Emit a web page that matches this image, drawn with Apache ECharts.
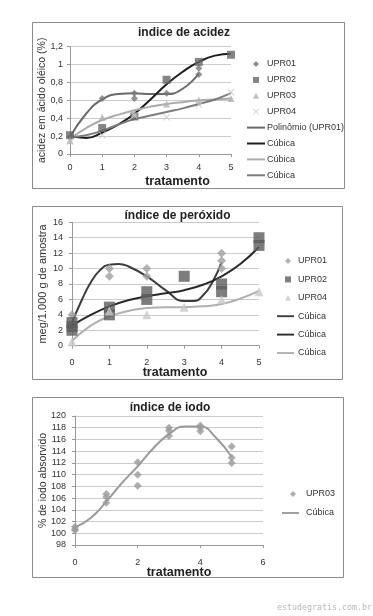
<!DOCTYPE html>
<html><head><meta charset="utf-8">
<script src="https://cdn.jsdelivr.net/npm/echarts@6/dist/echarts.min.js"></script>
<style>html,body{margin:0;padding:0;background:#fff}#c{width:373px;height:616px}</style>
</head><body><div id="c"></div>
<script>
// ---- Panel 1: índice de acidez ----
const acTicksX = [0,1,2,3,4,5];
const acUPR01 = [[0,0.19],[1,0.62],[2,0.68],[2,0.62],[3,0.68],[4,0.96],[4,0.89]];
const acUPR02 = [[0,0.21],[1,0.29],[2,0.42],[3,0.83],[4,1.03],[5,1.11]];
const acUPR03 = [[0,0.15],[1,0.41],[2,0.45],[3,0.56],[4,0.60],[5,0.62]];
const acUPR04 = [[0,0.14],[1,0.21],[2,0.43],[3,0.41],[4,0.55],[5,0.69]];
const acPoly01 = [[0,0.19],[0.5,0.45],[1,0.61],[1.5,0.67],[2,0.68],[2.5,0.67],[3,0.67],[3.5,0.73],[4,0.90]];
const acCub02 = [[0,0.20],[0.5,0.18],[1,0.24],[1.5,0.33],[2,0.45],[2.5,0.61],[3,0.78],[3.5,0.92],[4,1.03],[4.5,1.10],[5,1.12]];
const acCub03 = [[0,0.17],[0.5,0.29],[1,0.38],[1.5,0.44],[2,0.49],[2.5,0.53],[3,0.56],[3.5,0.58],[4,0.60],[4.5,0.61],[5,0.62]];
const acCub04 = [[0,0.19],[0.5,0.21],[1,0.26],[1.5,0.33],[2,0.39],[2.5,0.43],[3,0.47],[3.5,0.51],[4,0.56],[4.5,0.61],[5,0.68]];
// ---- Panel 2: índice de peróxido ----
const peUPR01 = [[0,4],[1,10],[1,9],[2,10],[2,9],[4,12],[4,11],[4,10]];
const peUPR02 = [[0,3],[0,2.5],[0,2],[1,5],[1,4],[2,7],[2,6],[3,9],[4,8],[4,7],[5,14],[5,13]];
const peUPR04 = [[0,0.5],[1,4.5],[2,4],[3,5],[4,6],[5,7]];
const peCub01 = [[0,3.0],[0.25,5.8],[0.5,8.2],[0.75,9.8],[1,10.5],[1.25,10.6],[1.5,10.3],[2,9.0],[2.5,7.2],[3,5.8],[3.25,5.8],[3.5,6.5],[3.75,8.2],[4,10.8]];
const peCub02 = [[0,2.6],[0.5,4.0],[1,5.1],[1.5,5.9],[2,6.4],[2.5,6.8],[3,7.2],[3.5,7.9],[4,9.0],[4.5,10.6],[5,12.8]];
const peCub04 = [[0,0.6],[0.5,2.6],[1,3.8],[1.5,4.5],[2,4.9],[2.5,5.0],[3,5.0],[3.5,5.1],[4,5.4],[4.5,6.1],[5,7.1]];
// ---- Panel 3: índice de iodo ----
const ioUPR03 = [[0,101.1],[0,100.7],[0,100.5],[1,106.7],[1,106.2],[1,105.2],[2,112.1],[2,110.0],[2,108.1],[3,118.0],[3,117.5],[3,116.6],[4,118.4],[4,118.0],[4,117.4],[5,114.8],[5,112.9],[5,112.0]];
const ioCub03 = [[0,101.0],[0.5,102.6],[1,105.4],[1.5,108.6],[2,111.4],[2.5,114.5],[3,116.9],[3.5,118.2],[4,118.2],[4.5,116.3],[5,113.0]];

const FONT = 'Liberation Sans, Arial, sans-serif';
const xSym = 'path://M1,0L5,4L9,0L10,1L6,5L10,9L9,10L5,6L1,10L0,9L4,5L0,1Z';
const lineIcon = 'path://M0,0L18,0L18,2L0,2Z';
const comma = v => String(v).replace('.', ',');

function sc(name, data, sym, size, color, g) {
  return {type:'scatter', name, data, symbol:sym, symbolSize:size, xAxisIndex:g, yAxisIndex:g,
    itemStyle:{color}, z:3};
}
function ln(name, data, color, g) {
  return {type:'line', name, data, smooth:0.5, symbol:'none', showSymbol:false, xAxisIndex:g, yAxisIndex:g,
    lineStyle:{color, width:2}, itemStyle:{color}, z:2};
}
function xa(g, max, interval, margin) {
  return {type:'value', gridIndex:g, min:0, max, interval,
    axisLine:{show:true, lineStyle:{color:'#999'}}, axisTick:{show:true, length:3, lineStyle:{color:'#999'}},
    splitLine:{show:false}, axisLabel:{color:'#333', fontFamily:FONT, fontSize:9, margin}};
}
function ya(g, min, max, interval, name, nameGap, fmt, nameSize, margin) {
  return {type:'value', gridIndex:g, min, max, interval,
    name, nameLocation:'middle', nameRotate:90, nameGap, nameMoveOverlap:false,
    nameTextStyle:{color:'#333', fontFamily:FONT, fontSize:nameSize},
    axisLine:{show:true, lineStyle:{color:'#999'}}, axisTick:{show:true, length:3, lineStyle:{color:'#999'}},
    splitLine:{show:true, lineStyle:{color:'#ccc'}},
    axisLabel:{color:'#333', fontFamily:FONT, fontSize:9, margin, formatter:fmt}};
}
function lg(data, left, top, gap, itemWidth, padLeft) {
  return {orient:'vertical', left, top, padding:0, itemGap:gap, itemWidth, itemHeight:6, data,
    symbolKeepAspect:true, selectedMode:false, formatter: n => n.split('#')[0],
    textStyle:{color:'#333', fontFamily:FONT, fontSize:9, lineHeight:11, padding:[0,0,0,padLeft]}};
}
function txt(x, y, s, size, bold, color, font, align) {
  return {type:'text', x, y, style:{text:s, fill:color||'#222', font:(bold?'bold ':'')+size+'px '+(font||FONT),
    align:align||'center', verticalAlign:'middle'}};
}
const si = (name, icon) => ({name, icon});
const li = name => ({name, icon:lineIcon});

const chart = echarts.init(document.getElementById('c'), null, {renderer:'canvas'});
chart.setOption({
  animation:false,
  backgroundColor:'#fff',
  grid:[
    {left:70, top:46.7, width:161, height:107.3},
    {left:72, top:222.3, width:187, height:123.4},
    {left:75, top:416, width:188, height:129}
  ],
  xAxis:[xa(0,5,1,9), xa(1,5,1,12), xa(2,6,2,13)],
  yAxis:[
    ya(0,0,1.2,0.2,'acidez em ácido oléico (%)',22, comma, 10.5, 7),
    ya(1,0,16,2,'meg/1.000 g de amostra',24, v=>v, 11, 9),
    ya(2,98,120,2,'% de iodo absorvido',26, v=>v, 10.5, 9)
  ],
  legend:[
    lg([si('UPR01#1','diamond'),si('UPR02#1','rect'),si('UPR03#1','triangle'),si('UPR04#1',xSym)], 253, 58.5, 4.9, 6, 3),
    lg([li('Polinômio (UPR01)'),li('Cúbica#1a'),li('Cúbica#1b'),li('Cúbica#1c')], 247, 122.1, 4.9, 18, -3),
    lg([si('UPR01#2','diamond'),si('UPR02#2','rect'),si('UPR04#2','triangle')], 285, 255.5, 7.4, 6, 2),
    lg([li('Cúbica#2a'),li('Cúbica#2b'),li('Cúbica#2c')], 277, 310.7, 7.4, 17, -1),
    lg([si('UPR03#3','diamond')], 290, 488.5, 8, 6, 5),
    lg([li('Cúbica#3')], 282, 507.5, 8, 17, 2)
  ],
  series:[
    ln('Polinômio (UPR01)', acPoly01, '#6a6a6a', 0),
    ln('Cúbica#1a', acCub02, '#1e1e1e', 0),
    ln('Cúbica#1b', acCub03, '#ababab', 0),
    ln('Cúbica#1c', acCub04, '#7c7c7c', 0),
    sc('UPR01#1', acUPR01, 'diamond', 7, '#777', 0),
    sc('UPR02#1', acUPR02, 'rect', 8, '#666', 0),
    sc('UPR03#1', acUPR03, 'triangle', 7, '#b0b0b0', 0),
    sc('UPR04#1', acUPR04, xSym, 7, '#c4c4c4', 0),

    ln('Cúbica#2a', peCub01, '#3c3c3c', 1),
    ln('Cúbica#2b', peCub02, '#2a2a2a', 1),
    ln('Cúbica#2c', peCub04, '#b0b0b0', 1),
    sc('UPR01#2', peUPR01, 'diamond', 9, '#a0a0a0', 1),
    sc('UPR02#2', peUPR02, 'rect', 11, '#5c5c5c', 1),
    sc('UPR04#2', peUPR04, 'triangle', 9, '#c8c8c8', 1),

    ln('Cúbica#3', ioCub03, '#9a9a9a', 2),
    sc('UPR03#3', ioUPR03, 'diamond', 8, '#9a9a9a', 2)
  ],
  graphic:[
    {type:'rect', shape:{x:32.5, y:22.5, width:312, height:166}, style:{fill:'none', stroke:'#8a8a8a', lineWidth:1}},
    {type:'rect', shape:{x:32.5, y:206.5, width:310, height:173}, style:{fill:'none', stroke:'#8a8a8a', lineWidth:1}},
    {type:'rect', shape:{x:32.5, y:397.5, width:311, height:180}, style:{fill:'none', stroke:'#8a8a8a', lineWidth:1}},
    txt(184, 33, 'indice de acidez', 12, true),
    txt(177.5, 216, 'índice de peróxido', 12, true),
    txt(170, 408, 'índice de iodo', 12, true),
    txt(177.5, 182, 'tratamento', 12.5, true),
    txt(175, 373, 'tratamento', 12.5, true),
    txt(179, 573, 'tratamento', 12.5, true),
    txt(372, 608, 'estudegratis.com.br', 8.3, false, '#b8b8b8', 'DejaVu Sans Mono, monospace', 'right')
  ]
});
</script></body></html>
